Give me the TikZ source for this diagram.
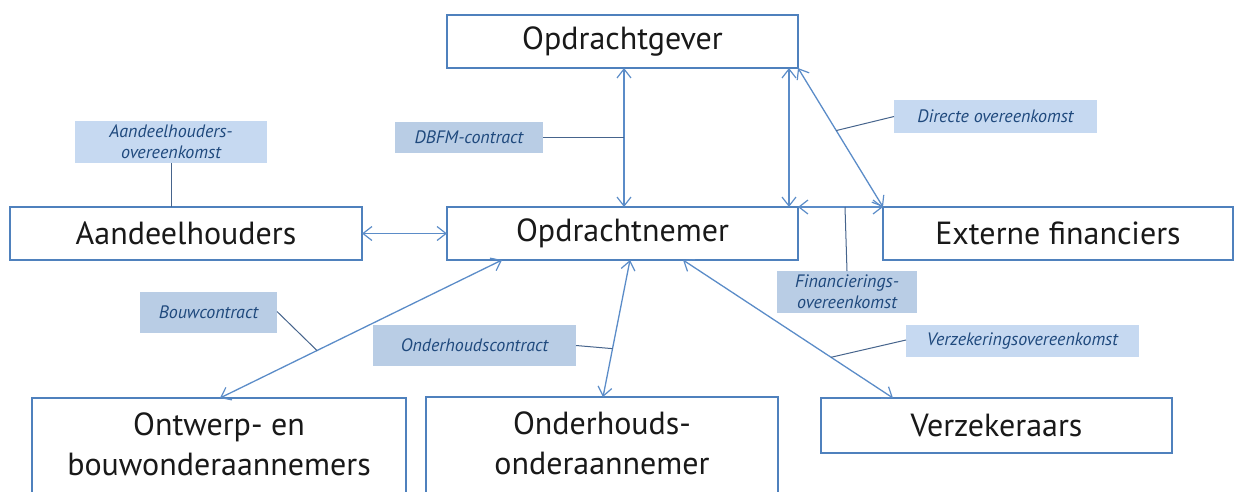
\documentclass[tikz,border=0pt]{standalone}
\usepackage{fontspec}
\setmainfont{PT Sans}
\usetikzlibrary{arrows.meta}
\definecolor{boxblue}{RGB}{79,129,189}
\definecolor{arrblue}{RGB}{91,140,200}
\definecolor{lablight}{RGB}{198,217,241}
\definecolor{labdark}{RGB}{185,205,229}
\definecolor{labtext}{RGB}{31,73,125}
\definecolor{leadcol}{RGB}{70,100,140}
\newcommand{\boxfont}{\fontsize{32}{40}\selectfont}
\newcommand{\labfont}{\fontsize{18}{21}\selectfont\itshape}
\tikzset{
  box/.style={draw=boxblue, line width=2pt, fill=white, inner sep=0pt, outer sep=0pt, font=\boxfont, align=center, text=black!90, anchor=north west},
  cutbox/.style={box, draw=none},
  boxline/.style={draw=boxblue, line width=2pt},
  lab/.style={inner sep=0pt, outer sep=0pt, font=\labfont, text=labtext, align=center, anchor=north west},
  tipb/.tip={Straight Barb[length=9pt,width=14pt,line width=1.2pt]},
  arr/.style={draw=arrblue, line width=1.3pt, tipb-tipb},
  lead/.style={draw=leadcol, line width=1pt}
}
\begin{document}
\begin{tikzpicture}[x=1pt,y=-1pt]
\useasboundingbox (0,0) rectangle (1235,491);
\clip (0,0) rectangle (1235,491);
% boxes
\node[box, minimum width=351pt, minimum height=53pt] (gever) at (447,15) {Opdrachtgever};
\node[box, minimum width=351pt, minimum height=53pt] (nemer) at (447,207) {Opdrachtnemer};
\node[box, minimum width=352pt, minimum height=53pt] (aandeel) at (10,207) {Aandeelhouders};
\node[box, minimum width=350pt, minimum height=53pt] (extern) at (883,207) {Externe financiers};
\node[cutbox, minimum width=374pt, minimum height=92pt] (ontwerp) at (32,398) {Ontwerp- en\\bouwonderaannemers};
\node[cutbox, minimum width=352pt, minimum height=92pt] (onderh) at (426,397) {Onderhouds-\\onderaannemer};
\draw[boxline] (ontwerp.north west) rectangle ([yshift=-30pt]ontwerp.south east);
\draw[boxline] (onderh.north west) rectangle ([yshift=-30pt]onderh.south east);
\node[box, minimum width=351pt, minimum height=55pt] (verzek) at (821,398) {Verzekeraars};
% labels
\node[lab, fill=lablight, minimum width=192pt, minimum height=42pt] (lAandeel) at (75,121) {Aandeelhouders-\\overeenkomst};
\node[lab, fill=labdark, minimum width=148pt, minimum height=31pt] (lDBFM) at (395,122) {DBFM-contract};
\node[lab, fill=lablight, minimum width=203pt, minimum height=33pt] (lDirecte) at (894,100) {Directe overeenkomst};
\node[lab, fill=labdark, minimum width=140pt, minimum height=42pt] (lFin) at (777,271) {Financierings-\\overeenkomst};
\node[lab, fill=labdark, minimum width=137pt, minimum height=41pt] (lBouw) at (140,292) {Bouwcontract};
\node[lab, fill=labdark, minimum width=203pt, minimum height=41pt] (lOnder) at (373,325) {Onderhoudscontract};
\node[lab, fill=lablight, minimum width=233pt, minimum height=32pt] (lVerz) at (906,325) {Verzekeringsovereenkomst};
% connectors
\draw[arr] ([xshift=177pt]gever.south west) -- coordinate[pos=0.5] (cDBFM) ([xshift=177pt]nemer.north west);
\draw[arr] ([xshift=342pt]gever.south west) -- ([xshift=342pt]nemer.north west);
\draw[arr] (gever.south east) -- coordinate[pos=0.45] (cDir) (extern.north west);
\draw[arr] (nemer.north east) -- (extern.north west);
\draw[arr] (aandeel.east) -- (nemer.west);
\draw[arr] ([xshift=188pt]ontwerp.north west) -- coordinate[pos=0.344] (cBouw) ([xshift=55pt]nemer.south west);
\draw[arr] ([xshift=183pt]nemer.south west) -- coordinate[pos=0.647] (cOnd) ([xshift=177pt]onderh.north west);
\draw[arr] ([xshift=236pt]nemer.south west) -- coordinate[pos=0.705] (cVerz) ([xshift=72pt]verzek.north west);
% leaders
\draw[lead] (lAandeel.south) -- (lAandeel.south |- aandeel.north);
\draw[lead] (lDBFM.east) -- (lDBFM.east -| cDBFM);
\draw[lead] (lDirecte.west) -- (cDir);
\draw[lead] (lFin.north) -- ([xshift=-2pt]lFin.north |- nemer.north);
\draw[lead] ([yshift=1pt]lBouw.east) -- (cBouw);
\draw[lead] (lOnder.east) -- (cOnd);
\draw[lead] ([yshift=1pt]lVerz.west) -- (cVerz);
\end{tikzpicture}
\end{document}
